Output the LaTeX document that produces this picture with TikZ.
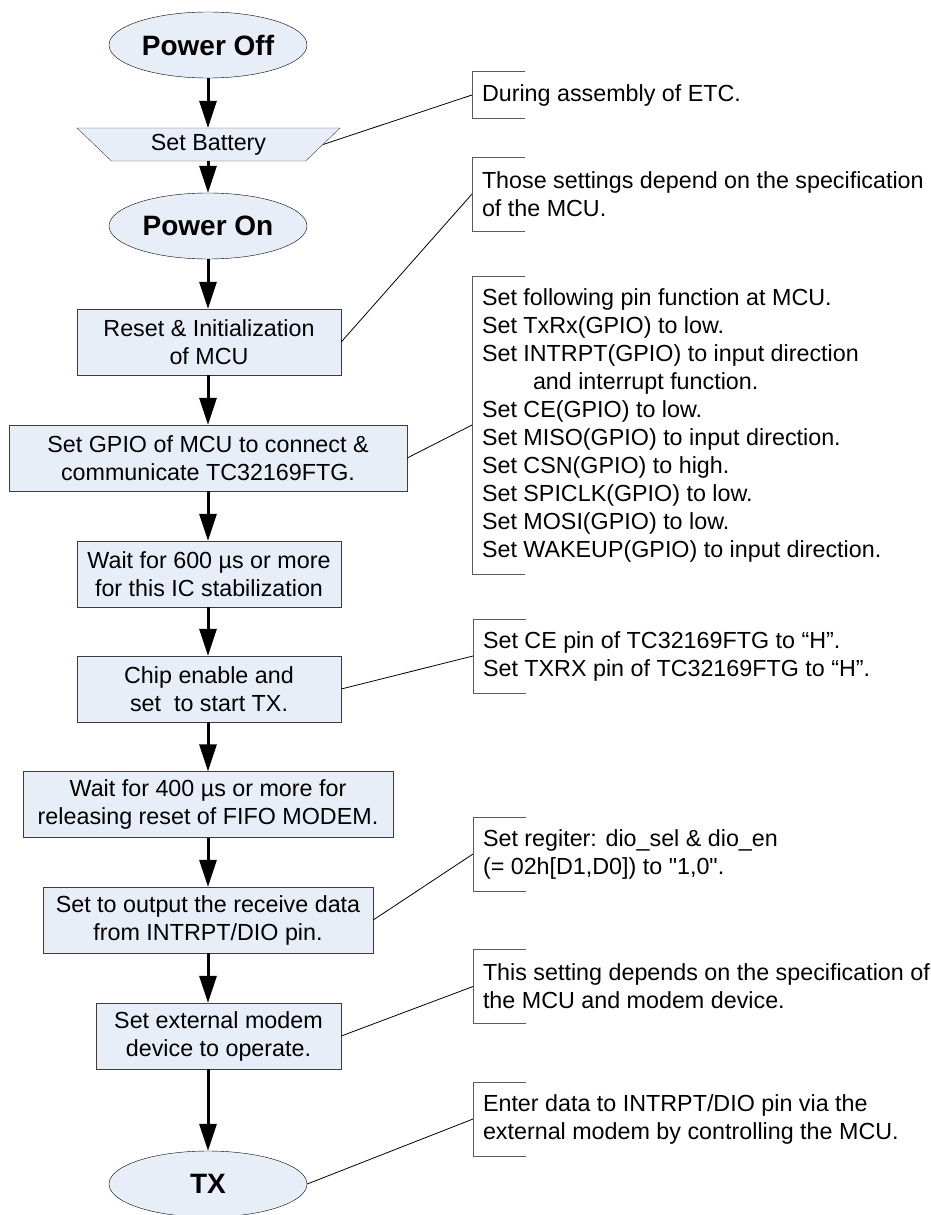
\documentclass[tikz,border=0pt]{standalone}
\usepackage{fontspec}
\setmainfont{Liberation Sans}[Ligatures = TeXOff]
\definecolor{FilledBox}{RGB}{232,238,248}
\definecolor{BoxBorder}{RGB}{60,60,60}
\definecolor{NoteBracket}{RGB}{90,90,90}
\usetikzlibrary{shapes.geometric, arrows.meta}

\tikzset{
  stepbox/.style = {rectangle, draw = BoxBorder, fill = FilledBox, minimum height = 66pt,
    align = center, inner sep = 0pt, font = \fontsize{23.3}{28}\selectfont},
  terminal/.style = {ellipse, draw, fill = FilledBox, minimum width = 198pt, minimum height = 66pt,
    inner sep = 0pt, font = \fontsize{28}{32}\selectfont\bfseries},
  flow/.style = {line width = 3pt, -{Triangle[length = 27pt, width = 17pt]}},
  note/.style = {anchor = west, align = left, inner xsep = 10pt, inner ysep = 0pt, outer sep = 0pt,
    font = \fontsize{23.3}{28}\selectfont},
  leader/.style = {line width = 0.8pt},
  bracket/.style = {draw = NoteBracket, line width = 1pt},
}

\begin{document}
\begin{tikzpicture}[x = 1pt, y = -1pt]
\useasboundingbox (0, 0) rectangle (931, 1215);

\coordinate (axis) at (208, 0);

% main flow
\node[terminal] (off) at (208, 45) {Power Off};
\node[trapezium, draw = BoxBorder, fill = FilledBox, shape border rotate = 180,
  trapezium angle = 46, trapezium stretches = true, minimum width = 263pt, minimum height = 33pt,
  inner sep = 0pt, font = \fontsize{23.3}{28}\selectfont] (battery) at (208.5, 144.5) {Set Battery};
\node[terminal] (on) at (208, 226) {Power On};
\node[stepbox, minimum width = 264pt] (reset) at (209, 342) {Reset \& Initialization\\of MCU};
\node[stepbox, minimum width = 398pt] (gpio) at (208, 458) {Set GPIO of MCU to connect \&\\communicate TC32169FTG.};
\node[stepbox, minimum width = 264pt] (wait600) at (209, 574) {Wait for 600 µs or more\\for this IC stabilization};
\node[stepbox, minimum width = 264pt] (chip) at (209, 689) {Chip enable and\\set\ \ to start TX.};
\node[stepbox, minimum width = 370pt] (wait400) at (208, 804.5) {Wait for 400 µs or more for\\releasing reset of FIFO MODEM.};
\node[stepbox, minimum width = 330pt] (dio) at (208, 920) {Set to output the receive data\\from INTRPT/DIO pin.};
\node[stepbox, minimum width = 245pt] (modem) at (218.5, 1036) {Set external modem\\device to operate.};
\node[terminal] (tx) at (208, 1184) {TX};

\foreach \from/\to in {off/battery, battery/on, on/reset, reset/gpio, gpio/wait600,
  wait600/chip, chip/wait400, wait400/dio, dio/modem, modem/tx}
  \draw[flow] (axis |- \from.south) -- (axis |- \to.north);

% notes
\node[note, minimum height = 46pt] (noteETC) at (472, 95) {During assembly of ETC.};
\node[note, minimum height = 74pt] (noteMCU) at (472, 194) {Those settings depend on the specification\\of the MCU.};
\node[note, minimum height = 298pt] (notePins) at (472, 425) {Set following pin function at MCU.\\
  Set TxRx(GPIO) to low.\\
  Set INTRPT(GPIO) to input direction\\
  \hspace*{51pt}and interrupt function.\\
  Set CE(GPIO) to low.\\
  Set MISO(GPIO) to input direction.\\
  Set CSN(GPIO) to high.\\
  Set SPICLK(GPIO) to low.\\
  Set MOSI(GPIO) to low.\\
  Set WAKEUP(GPIO) to input direction.};
\node[note, minimum height = 74pt] (noteCE) at (473, 656) {Set CE pin of TC32169FTG to “H”.\\Set TXRX pin of TC32169FTG to “H”.};
\node[note, minimum height = 74pt] (noteReg) at (473, 854) {Set regiter: dio\_sel \& dio\_en\\(= 02h[D1,D0]) to "1,0".};
\node[note, minimum height = 74pt] (noteModem) at (473, 986.5) {This setting depends on the specification of\\the MCU and modem device.};
\node[note, minimum height = 74pt] (noteTX) at (473, 1119) {Enter data to INTRPT/DIO pin via the\\external modem by controlling the MCU.};

\foreach \n in {noteETC, noteMCU, notePins, noteCE, noteReg, noteModem, noteTX}
  \draw[bracket] ([xshift = 53pt]\n.north west) -- (\n.north west) -- (\n.south west) -- ([xshift = 53pt]\n.south west);

\draw[leader] (battery.east) -- (noteETC.west);
\draw[leader] (reset.east) -- (noteMCU.west);
\draw[leader] (gpio.east) -- (notePins.west);
\draw[leader] (chip.east) -- (noteCE.west);
\draw[leader] (dio.east) -- (noteReg.west);
\draw[leader] (modem.east) -- (noteModem.west);
\draw[leader] (tx.east) -- (noteTX.west);

\end{tikzpicture}
\end{document}
